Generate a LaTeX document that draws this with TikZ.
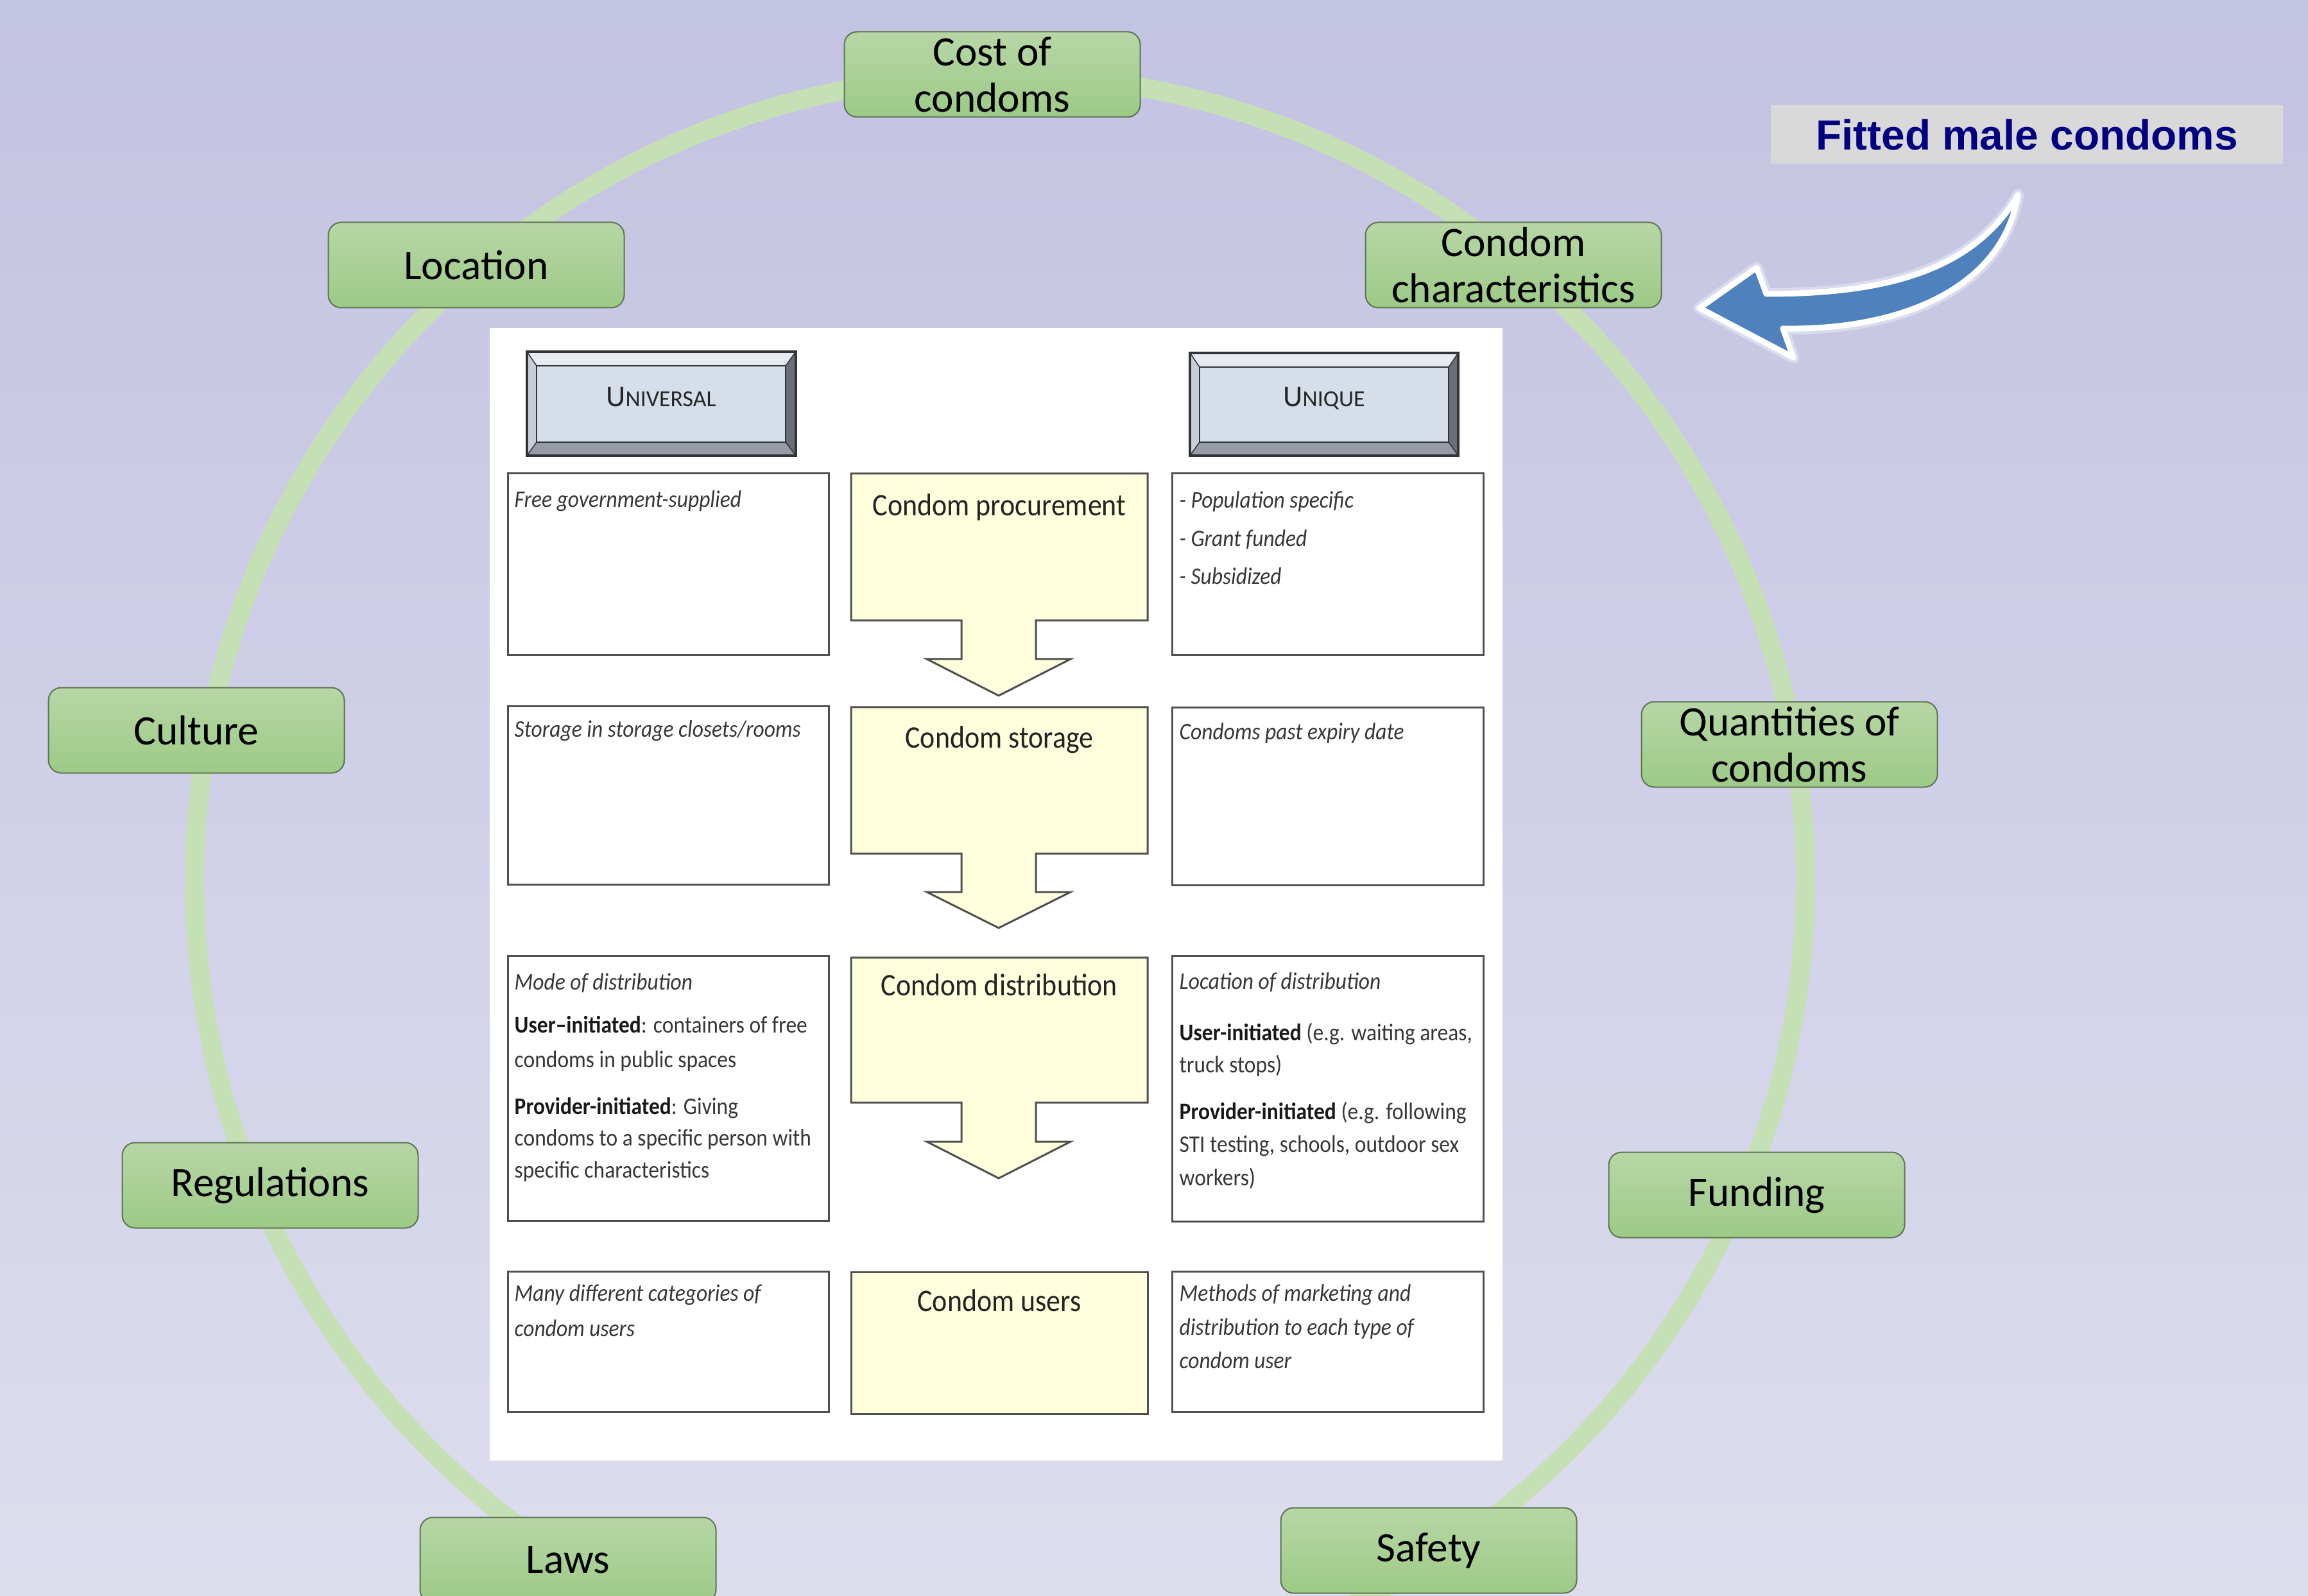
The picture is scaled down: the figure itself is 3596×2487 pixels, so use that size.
\documentclass[tikz,border=0pt]{standalone}
\usepackage{fontspec}
\setmainfont{Carlito}
\newfontfamily\pf[FakeStretch=0.9]{Carlito}
\newfontfamily\arialf{Liberation Sans}
\definecolor{bgtop}{RGB}{195,195,226}
\definecolor{bgbot}{RGB}{221,221,238}
\definecolor{ringc}{RGB}{197,224,180}
\definecolor{gtop}{RGB}{183,215,166}
\definecolor{gbot}{RGB}{157,202,134}
\definecolor{gborder}{RGB}{95,115,85}
\definecolor{pyellow}{RGB}{255,255,221}
\definecolor{pline}{RGB}{80,80,80}
\definecolor{ptext}{RGB}{55,55,55}
\definecolor{ptitle}{RGB}{35,35,35}
\definecolor{navyc}{RGB}{0,0,128}
\definecolor{fitbg}{RGB}{217,217,217}
\definecolor{arrowblue}{RGB}{79,129,189}
\definecolor{bevin}{RGB}{214,222,234}
\definecolor{bevtop}{RGB}{230,234,241}
\definecolor{bevbot}{RGB}{150,155,166}
\definecolor{bevleft}{RGB}{200,206,216}
\definecolor{bevright}{RGB}{105,110,120}
\definecolor{bevline}{RGB}{50,50,55}
\newcommand\mycallout[4]{%
  \draw[pbox,fill=pyellow] (1326,#1) -- (1788,#1) -- (1788,#2) -- (1614,#2) -- (1614,#3)
    -- (1668,#3) -- (1556,#4) -- (1444,#3) -- (1498,#3) -- (1498,#2) -- (1326,#2) -- cycle;}
\newcommand\mybevel[8]{% x1 y1 x2 y2 ix1 iy1 ix2 iy2
  \fill[bevtop] (#1,#2) -- (#3,#2) -- (#7,#6) -- (#5,#6) -- cycle;
  \fill[bevbot] (#1,#4) -- (#3,#4) -- (#7,#8) -- (#5,#8) -- cycle;
  \fill[bevleft] (#1,#2) -- (#5,#6) -- (#5,#8) -- (#1,#4) -- cycle;
  \fill[bevright] (#3,#2) -- (#7,#6) -- (#7,#8) -- (#3,#4) -- cycle;
  \draw[bevline,line width=0.25mm,fill=bevin] (#5,#6) rectangle (#7,#8);
  \draw[bevline,line width=0.15mm] (#1,#2) -- (#5,#6) (#3,#2) -- (#7,#6) (#1,#4) -- (#5,#8) (#3,#4) -- (#7,#8);
  \draw[bevline,line width=0.4mm] (#1,#2) rectangle (#3,#4);}
\begin{document}
\begin{tikzpicture}[x=0.1mm,y=-0.1mm,
  gbox/.style={rectangle, rounded corners=2mm, draw=gborder, line width=0.2mm,
    top color=gtop, bottom color=gbot, minimum width=46.1mm, minimum height=13.3mm,
    inner sep=0pt, align=center, font=\fontsize{18.6}{20.5}\selectfont, text=black},
  pbox/.style={draw=pline, line width=0.3mm, fill=white},
  ptitle/.style={inner sep=0pt, anchor=base, text=ptitle, font=\pf\fontsize{13.9}{16}\selectfont},
  ptxt/.style={inner sep=0pt, anchor=base west, align=left, text=ptext, font=\pf\fontsize{10.6}{14.5}\selectfont},
  hdr/.style={inner sep=0pt, text=black!85}]
\useasboundingbox (0,0) rectangle (3596,2487);
\shade[top color=bgtop,bottom color=bgbot] (0,0) rectangle (3596,2487);
% ring
\draw[ringc, line width=3mm] (1558,1372) circle[radius=125.5mm];
% white panel
\fill[white] (763,511) rectangle (2341,2276);
% header bevel boxes
\mybevel{821}{548}{1240}{710}{836}{570}{1224}{689}
\mybevel{1854}{550}{2272}{710}{1869}{572}{2257}{689}
\node[hdr] (univ) at (1030,619) {\fontsize{13.4}{14}\selectfont U\fontsize{10.2}{12}\selectfont NIVERSAL};
\node[hdr] (uniq) at (2063,621) {\fontsize{13.4}{14}\selectfont U\fontsize{10.2}{12}\selectfont NIQUE};
% row boxes
\draw[pbox] (791,738) rectangle (1291,1021);
\draw[pbox] (1826,738) rectangle (2311,1021);
\mycallout{738}{967}{1027}{1084}
\draw[pbox] (791,1101) rectangle (1291,1378);
\draw[pbox] (1826,1103) rectangle (2311,1379);
\mycallout{1102}{1330}{1390}{1446}
\draw[pbox] (791,1489) rectangle (1291,1902);
\draw[pbox] (1826,1489) rectangle (2311,1903);
\mycallout{1492}{1718}{1779}{1836}
\draw[pbox] (791,1981) rectangle (1291,2200);
\draw[pbox] (1826,1981) rectangle (2311,2200);
\draw[pbox,fill=pyellow] (1326,1982) rectangle (1788,2203);
% row 1 texts (multi-line nodes are anchored at the baseline of their last line)
\node[ptxt] (u1) at (801,791) {\itshape Free government-supplied};
\node[ptitle] (m1) at (1557,804) {Condom procurement};
\node[ptxt, font=\pf\fontsize{10.6}{17}\selectfont] (q1) at (1837,911) {\itshape - Population specific\\\itshape - Grant funded\\\itshape - Subsidized};
% row 2
\node[ptxt] (u2) at (801,1148) {\itshape Storage in storage closets/rooms};
\node[ptitle] (m2) at (1557,1165) {Condom storage};
\node[ptxt] (q2) at (1837,1152) {\itshape Condoms past expiry date};
% row 3
\node[ptxt] (u3a) at (801,1542) {\itshape Mode of distribution};
\node[ptxt, font=\pf\fontsize{10.6}{15.1}\selectfont] (u3b) at (801,1663) {{\bfseries\color{black!90}User–initiated}: containers of free\\condoms in public spaces};
\node[ptxt, font=\pf\fontsize{10.6}{14}\selectfont] (u3c) at (801,1835) {{\bfseries\color{black!90}Provider-initiated}: Giving\\condoms to a specific person with\\specific characteristics};
\node[ptitle] (m3) at (1557,1551) {Condom distribution};
\node[ptxt] (q3a) at (1837,1541) {\itshape Location of distribution};
\node[ptxt, font=\pf\fontsize{10.6}{14}\selectfont] (q3b) at (1837,1671) {{\bfseries\color{black!90}User-initiated} (e.g. waiting areas,\\truck stops)};
\node[ptxt, font=\pf\fontsize{10.6}{14.6}\selectfont] (q3c) at (1837,1847) {{\bfseries\color{black!90}Provider-initiated} (e.g. following\\STI testing, schools, outdoor sex\\workers)};
% row 4
\node[ptxt, font=\pf\fontsize{10.6}{15.4}\selectfont] (u4) at (801,2082) {\itshape Many different categories of\\\itshape condom users};
\node[ptitle] (m4) at (1557,2043) {Condom users};
\node[ptxt, font=\pf\fontsize{10.6}{14.8}\selectfont] (q4) at (1837,2132) {\itshape Methods of marketing and\\\itshape distribution to each type of\\\itshape condom user};
% green factor boxes
\node[gbox] (cost) at (1546,116) {Cost of\\condoms};
\node[gbox] (loc) at (742,413) {Location};
\node[gbox] (cchar) at (2358,413) {Condom\\characteristics};
\node[gbox] (cult) at (306,1138) {Culture};
\node[gbox] (quant) at (2788,1160) {Quantities of\\condoms};
\node[gbox] (regs) at (421,1847) {Regulations};
\node[gbox] (fund) at (2737,1862) {Funding};
\node[gbox] (laws) at (885,2431) {Laws};
\node[gbox] (safe) at (2226,2416) {Safety};
% fitted male condoms label
\node[fill=fitbg, minimum width=79.8mm, minimum height=9.1mm, inner sep=0pt,
  font=\arialf\bfseries\fontsize{18.7}{20}\selectfont, text=navyc] (fit) at (3158,210) {Fitted male condoms};
% curved blue arrow
\path[draw=white, line width=1.8mm, line join=round, opacity=0.35]
  (2648,480) -- (2737,417) -- (2752,458) .. controls (2920,458) and (3070,430) .. (3144,304)
  .. controls (3120,450) and (2960,515) .. (2778,512) -- (2794,557) -- cycle;
\path[draw=white, fill=arrowblue, line width=0.9mm, line join=round]
  (2648,480) -- (2737,417) -- (2752,458) .. controls (2920,458) and (3070,430) .. (3144,304)
  .. controls (3120,450) and (2960,515) .. (2778,512) -- (2794,557) -- cycle;
\end{tikzpicture}
\end{document}
